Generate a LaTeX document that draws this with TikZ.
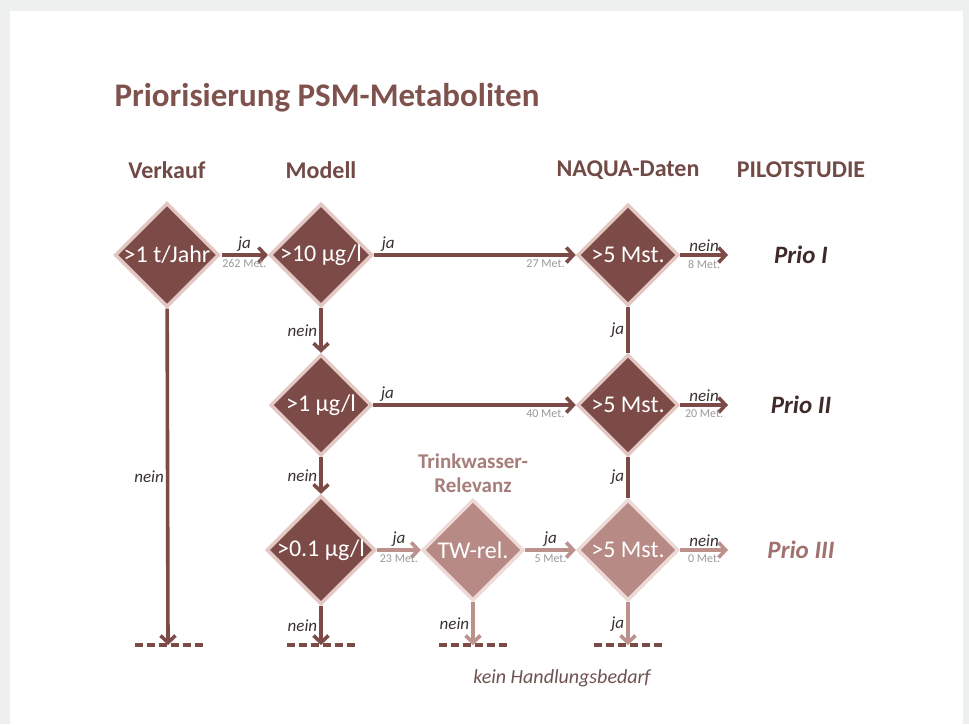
\documentclass[tikz,border=0pt]{standalone}
\usepackage{fontspec}
\setmainfont{Carlito}
\usetikzlibrary{positioning,arrows.meta,shapes.geometric}
\definecolor{darkfill}{HTML}{7D4B47}
\definecolor{lightfill}{HTML}{B78A85}
\definecolor{darkhalo}{HTML}{E3C7C3}
\definecolor{lighthalo}{HTML}{EDD9D6}
\definecolor{lightline}{HTML}{BC918C}
\definecolor{titlecol}{HTML}{7F524E}
\definecolor{headcol}{HTML}{714A46}
\definecolor{twcol}{HTML}{A67E7A}
\definecolor{priocol}{HTML}{3F2A28}
\definecolor{prio3col}{HTML}{A0716D}
\definecolor{labcol}{HTML}{3A3232}
\definecolor{metcol}{HTML}{9A9A9A}
\definecolor{keincol}{HTML}{6E5250}
\definecolor{framecol}{HTML}{EEF0EF}

\begin{document}
\begin{tikzpicture}[
    x=1pt, y=-1pt,
    dia/.style={diamond, draw=darkhalo, line width=3.5pt, fill=darkfill, text=white,
        minimum width=101pt, minimum height=101pt, inner sep=0pt,
        font=\fontsize{24}{26}\selectfont},
    dialight/.style={dia, draw=lighthalo, fill=lightfill},
    head/.style={font=\fontsize{24}{26}\selectfont\bfseries, text=headcol},
    prio/.style={font=\fontsize{25}{27}\selectfont\bfseries\itshape, text=priocol},
    yes/.style={font=\fontsize{17}{18}\selectfont\itshape, text=labcol, inner sep=2pt},
    met/.style={font=\fontsize{12}{13}\selectfont, text=metcol, inner sep=3pt},
    arr/.style={draw=darkfill, line width=3.6pt, -{Straight Barb[length=7pt,width=15pt]}},
    arrlight/.style={arr, draw=lightline},
    ln/.style={draw=darkfill, line width=3.6pt},
    dashline/.style={draw=darkfill, line width=3.6pt, dash pattern=on 8pt off 4pt}
]
    % frame
    \fill[framecol] (0,0) rectangle (969,724);
    \fill[white] (10,11) rectangle (963,724);

    \node[anchor=west, font=\fontsize{33}{35}\selectfont\bfseries, text=titlecol] (title) at (111,98) {Priorisierung PSM-Metaboliten};

    \node[head] (hverk) at (167,170) {Verkauf};
    \node[head] (hmod) at (321,170) {Modell};
    \node[head] (hnaq) at (628,170) {NAQUA-Daten};
    \node[head] (hpilot) at (801,170) {PILOTSTUDIE};

    % diamonds
    \node[dia] (verk) at (167,255) {>1 t/Jahr};
    \node[dia] (mod10) at (321,255) {>10 µg/l};
    \node[dia] (naq1) at (628,255) {>5 Mst.};
    \node[dia] (mod1) at (321,405) {>1 µg/l};
    \node[dia] (naq2) at (628,405) {>5 Mst.};
    \node[dia] (mod01) at (321,550) {>0.1 µg/l};
    \node[dialight] (twrel) at (473,550) {TW-rel.};
    \node[dialight] (naq3) at (628,550) {>5 Mst.};

    \node[head, text=twcol, font=\fontsize{21}{24}\selectfont\bfseries, align=center] (tw) at (473,473) {Trinkwasser-\\Relevanz};

    \node[prio] (prio1) at (801,255) {Prio I};
    \node[prio] (prio2) at (801,405) {Prio II};
    \node[prio, text=prio3col] (prio3) at (801,550) {Prio III};

    \coordinate (p1) at (728,255);
    \coordinate (p2) at (728,405);
    \coordinate (p3) at (728,550);
    \coordinate (e1) at (168,645);
    \coordinate (e2) at (321,645);
    \coordinate (e3) at (473,645);
    \coordinate (e4) at (628,645);

    % row 1
    \draw[arr, shorten <=1pt] (verk) -- node[yes, above] (j1) {ja} node[met, below] (m1) {262 Met.} (mod10);
    \draw[arr] (mod10) -- node[yes, above, pos=0.07] (j2) {ja} node[met, below, pos=0.85] (m2) {27 Met.} (naq1);
    \draw[arr] (naq1) -- node[yes, above] (n1) {nein} node[met, below] (m3) {8 Met.} (p1);

    % row 2
    \draw[arr] (mod1) -- node[yes, above, pos=0.07] (j3) {ja} node[met, below, pos=0.85] (m4) {40 Met.} (naq2);
    \draw[arr] (naq2) -- node[yes, above] (n2) {nein} node[met, below] (m5) {20 Met.} (p2);

    % row 3
    \draw[arrlight] (mod01) -- node[yes, above] (j4) {ja} node[met, below] (m6) {23 Met.} (twrel);
    \draw[arrlight] (twrel) -- node[yes, above] (j5) {ja} node[met, below] (m7) {5 Met.} (naq3);
    \draw[arrlight] (naq3) -- node[yes, above] (n3) {nein} node[met, below] (m8) {0 Met.} (p3);

    % vertical
    \draw[arr] (mod10) -- node[yes, left] (n4) {nein} (mod1);
    \draw[arr] (mod1) -- node[yes, left] (n5) {nein} (mod01);
    \draw[ln] (naq1) -- node[yes, left] (j6) {ja} (naq2);
    \draw[ln] (naq2) -- node[yes, left] (j7) {ja} (naq3);
    \draw[arr] (verk) -- node[yes, left] (n6) {nein} (e1);
    \draw[arr] (mod01) -- node[yes, left] (n7) {nein} (e2);
    \draw[arrlight] (twrel) -- node[yes, left] (n8) {nein} (e3);
    \draw[arrlight] (naq3) -- node[yes, left] (j8) {ja} (e4);

    % dashed ends
    \draw[dashline] ([xshift=-33pt]e1) -- ([xshift=37pt]e1);
    \draw[dashline] ([xshift=-34pt]e2) -- ([xshift=34pt]e2);
    \draw[dashline] ([xshift=-34pt]e3) -- ([xshift=34pt]e3);
    \draw[dashline] ([xshift=-34pt]e4) -- ([xshift=34pt]e4);

    \node[font=\fontsize{20}{22}\selectfont\itshape, text=keincol] (kein) at (562,678) {kein Handlungsbedarf};
\end{tikzpicture}
\end{document}
